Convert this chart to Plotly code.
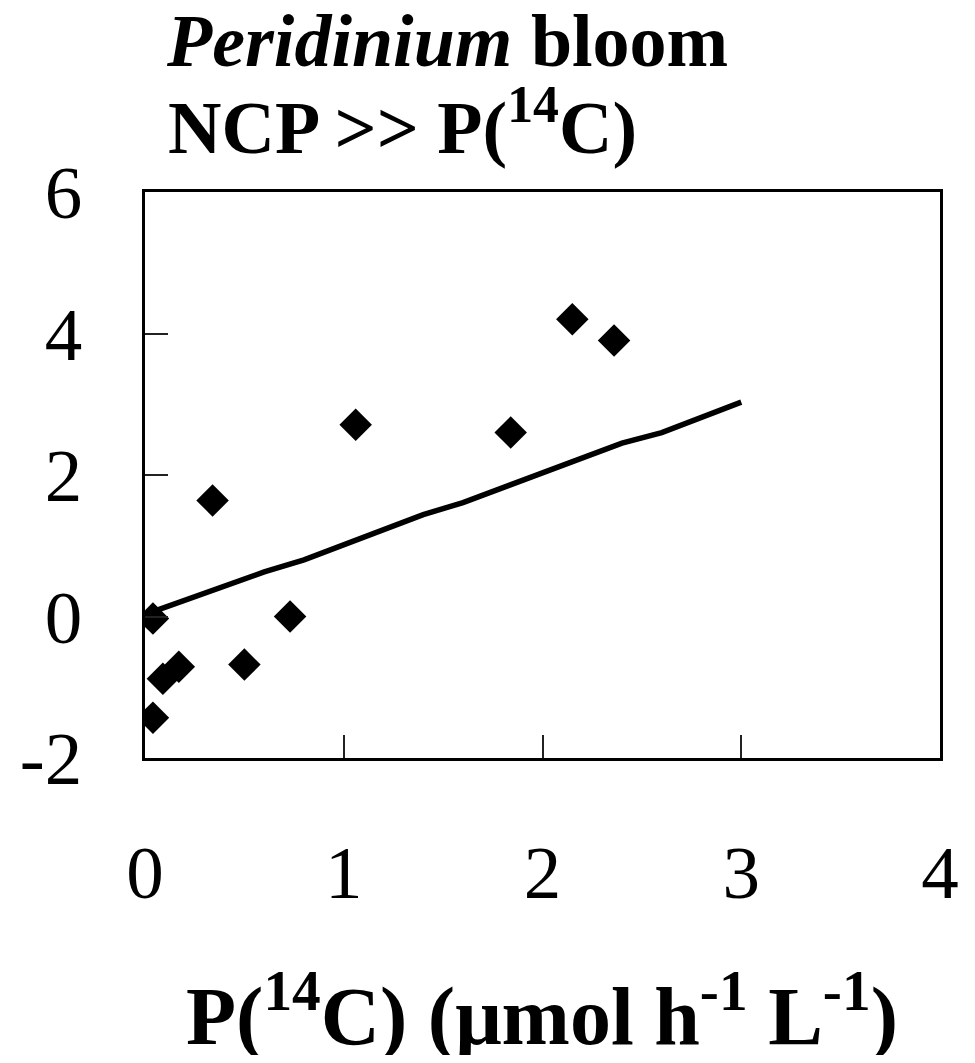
import plotly.graph_objects as go

# Observed points
obs_x = [0.04, 0.04, 0.09, 0.17, 0.34, 0.50, 0.73, 1.06, 1.84, 2.15, 2.36]
obs_y = [-0.03, -1.43, -0.88, -0.71, 1.64, -0.68, 0.00, 2.71, 2.60, 4.20, 3.90]

# Model line
line_x = [0.04, 0.60, 0.80, 1.40, 1.60, 2.00, 2.40, 2.60, 3.00]
line_y = [0.07, 0.63, 0.80, 1.44, 1.61, 2.04, 2.45, 2.60, 3.03]

x_ticks = [0, 1, 2, 3, 4]
y_ticks = [-2, 0, 2, 4, 6]

FONT = "Liberation Serif, Times New Roman, serif"

# page offset from browser default body margin
OFF = 8
L, T, R, B = 145, 192, 940, 758   # target plot area in page pixels
W, H = 975 - 2 * OFF, 1063 - 2 * OFF

def px(x):
    return (x - L) / (R - L)

def py(y):
    return (B - y) / (B - T)

fig = go.Figure()
fig.add_trace(go.Scatter(x=line_x, y=line_y, mode="lines",
                         line=dict(color="black", width=5.5), showlegend=False,
                         hoverinfo="skip"))
fig.add_trace(go.Scatter(x=obs_x, y=obs_y, mode="markers",
                         marker=dict(symbol="diamond", size=25, color="black",
                                     line=dict(width=0)),
                         showlegend=False))

fig.update_layout(
    width=W, height=H,
    margin=dict(l=L - OFF, r=W - (R - OFF), t=T - OFF, b=H - (B - OFF)),
    paper_bgcolor="white", plot_bgcolor="white",
    font=dict(family=FONT, color="black"),
    xaxis=dict(range=[0, 4], tickvals=x_ticks, ticktext=[str(v) for v in x_ticks],
               showgrid=False, zeroline=False, showline=True, mirror=True,
               linecolor="black", linewidth=2.5, ticks="inside", ticklen=23,
               tickwidth=1.5, tickcolor="#222", tickfont=dict(size=75, family=FONT),
               ticklabelstandoff=47, automargin=False),
    yaxis=dict(range=[-2, 6], tickvals=y_ticks, ticktext=[str(v) for v in y_ticks],
               showgrid=False, zeroline=False, showline=True, mirror=True,
               linecolor="black", linewidth=2.5, ticks="inside", ticklen=23,
               tickwidth=1.5, tickcolor="#222", tickfont=dict(size=75, family=FONT),
               ticklabelstandoff=45, automargin=False),
    annotations=[
        dict(text="<i>Peridinium</i> bloom", x=px(164), y=py(41),
             xref="paper", yref="paper", xanchor="left", yanchor="middle",
             showarrow=False, font=dict(size=74, family=FONT, color="black")),
        dict(text="NCP >> P(<sup>14</sup>C)", x=px(166), y=py(122),
             xref="paper", yref="paper", xanchor="left", yanchor="middle",
             showarrow=False, font=dict(size=74, family=FONT, color="black")),
        dict(text="P(<sup>14</sup>C) (\u03bcmol h<sup>-1</sup> L<sup>-1</sup>)",
             x=px(542), y=py(1010),
             xref="paper", yref="paper", xanchor="center", yanchor="middle",
             showarrow=False, font=dict(size=82, family=FONT, color="black")),
    ],
)
for a in fig.layout.annotations:
    a.text = "<b>" + a.text + "</b>"

fig.write_html("out.html")
